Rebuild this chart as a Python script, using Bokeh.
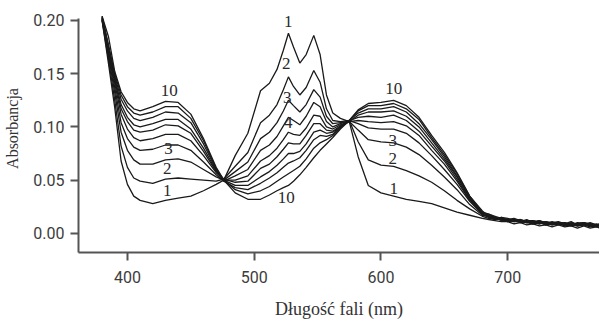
from bokeh.plotting import figure
from bokeh.models import Range1d, FixedTicker, LabelSet, ColumnDataSource, NumeralTickFormatter, LinearAxis
from bokeh.embed import file_html
from bokeh.resources import INLINE

# wavelength grid (nm)
wavelength = [380, 385, 390, 395, 400, 405, 410, 420, 430, 440, 450, 460, 470, 476,
              485, 495, 505, 512, 518, 523, 527, 531, 536, 541, 547, 552, 557, 562,
              568, 575, 582, 590, 600, 610, 620, 630, 640, 650, 660, 670,
              680, 685, 690, 695, 700, 705, 710, 715, 720, 725, 730, 735, 740, 745,
              750, 755, 760, 765, 770, 775, 780]

# absorbance of spectra 1..10
a1 = [0.200, 0.160, 0.118, 0.068, 0.046, 0.035, 0.031, 0.028, 0.031, 0.033, 0.035, 0.040,
      0.046, 0.050, 0.073, 0.094, 0.134, 0.141, 0.154, 0.172, 0.188, 0.175, 0.160, 0.168,
      0.186, 0.168, 0.130, 0.113, 0.108, 0.105, 0.072, 0.045, 0.038, 0.035, 0.032, 0.030,
      0.028, 0.024, 0.020, 0.017,
      0.014, 0.013, 0.012, 0.011, 0.011, 0.009, 0.010, 0.008, 0.009, 0.007, 0.008, 0.006,
      0.008, 0.006, 0.007, 0.005, 0.007, 0.005, 0.006, 0.004, 0.006]
a2 = [0.200, 0.164, 0.125, 0.082, 0.062, 0.052, 0.049, 0.047, 0.051, 0.052, 0.051, 0.050,
      0.049, 0.051, 0.063, 0.076, 0.104, 0.111, 0.121, 0.135, 0.147, 0.138, 0.130, 0.137,
      0.153, 0.142, 0.117, 0.106, 0.105, 0.106, 0.086, 0.069, 0.064, 0.063, 0.059, 0.054,
      0.048, 0.040, 0.031, 0.023,
      0.016, 0.014, 0.013, 0.014, 0.011, 0.012, 0.010, 0.011, 0.009, 0.010, 0.008, 0.009,
      0.009, 0.007, 0.008, 0.007, 0.008, 0.006, 0.007, 0.008, 0.006]
a3 = [0.201, 0.167, 0.132, 0.095, 0.078, 0.069, 0.065, 0.065, 0.069, 0.070, 0.067, 0.060,
      0.053, 0.050, 0.058, 0.067, 0.089, 0.095, 0.104, 0.115, 0.125, 0.120, 0.114, 0.121,
      0.135, 0.128, 0.110, 0.103, 0.104, 0.105, 0.097, 0.088, 0.086, 0.085, 0.081, 0.074,
      0.064, 0.053, 0.041, 0.027,
      0.017, 0.016, 0.013, 0.014, 0.012, 0.013, 0.011, 0.010, 0.011, 0.009, 0.010, 0.008,
      0.010, 0.008, 0.009, 0.007, 0.009, 0.007, 0.008, 0.006, 0.007]
a4 = [0.201, 0.170, 0.137, 0.104, 0.089, 0.081, 0.078, 0.079, 0.083, 0.083, 0.078, 0.067,
      0.055, 0.049, 0.054, 0.060, 0.078, 0.083, 0.091, 0.101, 0.109, 0.106, 0.102, 0.110,
      0.123, 0.119, 0.105, 0.100, 0.103, 0.106, 0.103, 0.099, 0.098, 0.098, 0.094, 0.085,
      0.073, 0.060, 0.046, 0.030,
      0.018, 0.015, 0.015, 0.012, 0.013, 0.011, 0.012, 0.010, 0.009, 0.011, 0.008, 0.010,
      0.008, 0.009, 0.007, 0.009, 0.010, 0.007, 0.008, 0.009, 0.007]
a5 = [0.202, 0.172, 0.141, 0.112, 0.098, 0.090, 0.087, 0.089, 0.093, 0.093, 0.087, 0.073,
      0.057, 0.050, 0.050, 0.054, 0.068, 0.073, 0.080, 0.088, 0.095, 0.093, 0.092, 0.099,
      0.111, 0.110, 0.100, 0.098, 0.102, 0.105, 0.106, 0.105, 0.104, 0.105, 0.101, 0.092,
      0.078, 0.065, 0.049, 0.031,
      0.019, 0.017, 0.015, 0.014, 0.012, 0.013, 0.011, 0.012, 0.012, 0.010, 0.011, 0.009,
      0.010, 0.008, 0.010, 0.007, 0.008, 0.009, 0.007, 0.008, 0.008]
a6 = [0.202, 0.174, 0.144, 0.117, 0.105, 0.097, 0.095, 0.097, 0.102, 0.101, 0.094, 0.077,
      0.058, 0.051, 0.048, 0.049, 0.061, 0.065, 0.072, 0.079, 0.085, 0.084, 0.084, 0.092,
      0.103, 0.103, 0.097, 0.096, 0.101, 0.106, 0.109, 0.110, 0.109, 0.111, 0.106, 0.096,
      0.082, 0.068, 0.051, 0.032,
      0.018, 0.016, 0.013, 0.015, 0.014, 0.012, 0.013, 0.011, 0.010, 0.012, 0.009, 0.010,
      0.011, 0.009, 0.008, 0.010, 0.009, 0.007, 0.009, 0.006, 0.007]
a7 = [0.203, 0.175, 0.146, 0.121, 0.109, 0.102, 0.100, 0.103, 0.107, 0.107, 0.098, 0.080,
      0.059, 0.050, 0.045, 0.045, 0.053, 0.058, 0.064, 0.070, 0.075, 0.075, 0.077, 0.084,
      0.095, 0.097, 0.094, 0.095, 0.100, 0.105, 0.111, 0.114, 0.114, 0.115, 0.110, 0.100,
      0.085, 0.070, 0.053, 0.033,
      0.020, 0.017, 0.014, 0.013, 0.011, 0.013, 0.012, 0.010, 0.011, 0.011, 0.010, 0.008,
      0.009, 0.010, 0.008, 0.009, 0.010, 0.008, 0.007, 0.009, 0.009]
a8 = [0.203, 0.176, 0.148, 0.126, 0.115, 0.108, 0.106, 0.109, 0.114, 0.113, 0.104, 0.084,
      0.060, 0.049, 0.043, 0.041, 0.047, 0.052, 0.057, 0.062, 0.066, 0.068, 0.071, 0.078,
      0.088, 0.092, 0.091, 0.093, 0.100, 0.106, 0.113, 0.117, 0.117, 0.119, 0.114, 0.103,
      0.088, 0.072, 0.054, 0.034,
      0.019, 0.018, 0.016, 0.014, 0.013, 0.012, 0.011, 0.013, 0.010, 0.009, 0.011, 0.010,
      0.010, 0.008, 0.009, 0.008, 0.008, 0.010, 0.008, 0.007, 0.008]
a9 = [0.204, 0.177, 0.150, 0.130, 0.119, 0.113, 0.111, 0.114, 0.119, 0.119, 0.108, 0.087,
      0.061, 0.050, 0.041, 0.037, 0.040, 0.044, 0.049, 0.053, 0.056, 0.059, 0.063, 0.070,
      0.080, 0.085, 0.088, 0.092, 0.099, 0.106, 0.115, 0.120, 0.120, 0.122, 0.117, 0.107,
      0.090, 0.074, 0.056, 0.035,
      0.021, 0.016, 0.013, 0.015, 0.012, 0.011, 0.013, 0.011, 0.012, 0.010, 0.009, 0.011,
      0.009, 0.010, 0.008, 0.009, 0.009, 0.008, 0.006, 0.008, 0.007]
a10 = [0.204, 0.185, 0.152, 0.133, 0.123, 0.117, 0.115, 0.119, 0.124, 0.123, 0.112, 0.089,
       0.062, 0.050, 0.038, 0.032, 0.032, 0.036, 0.040, 0.043, 0.045, 0.049, 0.055, 0.062,
       0.071, 0.078, 0.084, 0.090, 0.098, 0.106, 0.116, 0.122, 0.123, 0.125, 0.120, 0.109,
       0.092, 0.076, 0.057, 0.035,
       0.020, 0.018, 0.015, 0.014, 0.013, 0.014, 0.012, 0.011, 0.011, 0.012, 0.010, 0.009,
       0.010, 0.009, 0.011, 0.008, 0.010, 0.009, 0.008, 0.010, 0.009]

# curve number labels
curve_label_text = ["1", "2", "3", "10", "1", "2", "3", "4", "10", "1", "2", "3", "10"]
curve_label_x = [431.5, 431.5, 432.3, 433.0, 526.8, 525.2, 526.0, 526.8, 525.2, 610.0, 609.4, 609.4, 610.0]
curve_label_y = [0.040, 0.061, 0.080, 0.134, 0.199, 0.160, 0.128, 0.104, 0.034, 0.042, 0.070, 0.087, 0.136]

x_ticks = [400, 500, 600, 700]
y_ticks = [0.00, 0.05, 0.10, 0.15, 0.20]

x_title = "Długość fali (nm)"
y_title = "Absorbancja"

spectra = [a1, a2, a3, a4, a5, a6, a7, a8, a9, a10]

p = figure(width=599, height=321, output_backend="svg", toolbar_location=None,
           x_range=Range1d(361.4, 772.4), y_range=Range1d(-0.018, 0.215),
           min_border_left=77, min_border_right=0, min_border_top=4, min_border_bottom=69)
p.outline_line_color = None
p.grid.visible = False
p.background_fill_color = "white"
p.border_fill_color = "white"

for s in spectra:
    p.line(wavelength, s, line_color="#1a1a1a", line_width=1.3)

tick_font = "Roboto"
for ax in (p.xaxis[0], p.yaxis[0]):
    ax.axis_line_color = "#555555"
    ax.axis_line_width = 2
    ax.major_tick_line_color = "#555555"
    ax.major_tick_line_width = 2
    ax.major_tick_out = 8
    ax.major_tick_in = 0
    ax.minor_tick_line_color = None
    ax.major_label_text_font = tick_font
    ax.major_label_text_font_size = "16px"
    ax.major_label_text_color = "#3c3c3c"
    ax.major_label_text_line_height = 1.0

p.xaxis.ticker = FixedTicker(ticks=x_ticks)
p.yaxis.ticker = FixedTicker(ticks=y_ticks)
p.yaxis.formatter = NumeralTickFormatter(format="0.00")
p.yaxis.bounds = (-0.018, 0.202)
p.xaxis.major_label_standoff = 10
p.yaxis.major_label_standoff = 6

# title-only axes (centred on their bounds)
xt = LinearAxis(ticker=FixedTicker(ticks=[]), bounds=(361.4, 744.0), axis_line_color=None,
                major_tick_line_color=None, minor_tick_line_color=None,
                axis_label=x_title, axis_label_standoff=13,
                axis_label_text_font="Liberation Serif", axis_label_text_font_size="18px",
                axis_label_text_line_height=1.0,
                axis_label_text_font_style="normal", axis_label_text_color="#333333")
p.add_layout(xt, "below")
yt = LinearAxis(ticker=FixedTicker(ticks=[]), bounds=(0.0056, 0.202), axis_line_color=None,
                major_tick_line_color=None, minor_tick_line_color=None,
                axis_label=y_title, axis_label_standoff=10,
                axis_label_text_font="Liberation Serif", axis_label_text_font_size="16px",
                axis_label_text_font_style="normal", axis_label_text_color="#333333")
p.add_layout(yt, "left")

src = ColumnDataSource(dict(x=curve_label_x, y=curve_label_y, t=curve_label_text))
p.add_layout(LabelSet(x="x", y="y", text="t", source=src, text_align="center",
                      text_baseline="middle", text_font=tick_font,
                      text_font_size="17px", text_color="#2a2a2a"))

open("out.html", "w").write(file_html(p, INLINE))
